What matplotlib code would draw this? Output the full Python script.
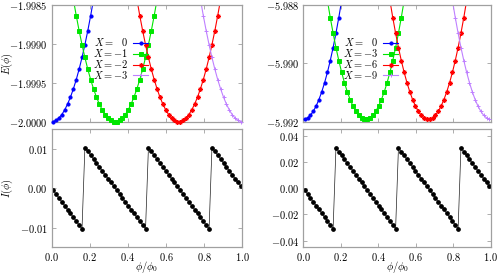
import numpy as np
import matplotlib
matplotlib.use('Agg')
import matplotlib.pyplot as plt
from matplotlib.ticker import MultipleLocator, FormatStrFormatter

# flux grid phi/phi0 (sample points)
phi = np.array([
    0.0076, 0.0227, 0.0379, 0.0530, 0.0682, 0.0833, 0.0985, 0.1136, 0.1288, 0.1439,
    0.1591, 0.1742, 0.1894, 0.2045, 0.2197, 0.2348, 0.2500, 0.2652, 0.2803, 0.2955,
    0.3106, 0.3258, 0.3409, 0.3561, 0.3712, 0.3864, 0.4015, 0.4167, 0.4318, 0.4470,
    0.4621, 0.4773, 0.4924, 0.5076, 0.5227, 0.5379, 0.5530, 0.5682, 0.5833, 0.5985,
    0.6136, 0.6288, 0.6439, 0.6591, 0.6742, 0.6894, 0.7045, 0.7197, 0.7348, 0.7500,
    0.7652, 0.7803, 0.7955, 0.8106, 0.8258, 0.8409, 0.8561, 0.8712, 0.8864, 0.9015,
    0.9167, 0.9318, 0.9470, 0.9621, 0.9773, 0.9924])

# E(phi) above the minimum, units of 1e-4
dE_left_X0 = [0.02, 0.17, 0.47, 0.91, 1.51, 2.26, 3.15, 4.20, 5.39, 6.73, 8.23, 9.87,
              11.66, 13.60, 15.69, 17.93]
dE_left_X1 = [17.93, 15.69, 13.60, 11.66, 9.87, 8.23, 6.73, 5.39, 4.20, 3.15, 2.26, 1.51,
              0.91, 0.47, 0.17, 0.02, 0.02, 0.17, 0.47, 0.91, 1.51, 2.26, 3.15, 4.20,
              5.39, 6.73, 8.23, 9.87, 11.66, 13.60, 15.69, 17.93]
dE_left_X2 = [17.93, 15.69, 13.60, 11.66, 9.87, 8.23, 6.73, 5.39, 4.20, 3.15, 2.26, 1.51,
              0.91, 0.47, 0.17, 0.02, 0.02, 0.17, 0.47, 0.91, 1.51, 2.26, 3.15, 4.20,
              5.39, 6.73, 8.23, 9.87, 11.66, 13.60, 15.69, 17.93]
dE_left_X3 = [17.93, 15.69, 13.60, 11.66, 9.87, 8.23, 6.73, 5.39, 4.20, 3.15, 2.26, 1.51,
              0.91, 0.47, 0.17, 0.02]

dE_right_X0 = [0.06, 0.50, 1.39, 2.73, 4.51, 6.74, 9.41, 12.53, 16.09, 20.10, 24.55,
               29.45, 34.79, 40.58, 46.82, 53.50]
dE_right_X3 = [53.50, 46.82, 40.58, 34.79, 29.45, 24.55, 20.10, 16.09, 12.53, 9.41, 6.74,
               4.51, 2.73, 1.39, 0.50, 0.06, 0.06, 0.50, 1.39, 2.73, 4.51, 6.74, 9.41,
               12.53, 16.09, 20.10, 24.55, 29.45, 34.79, 40.58, 46.82, 53.50]
dE_right_X6 = [53.50, 46.82, 40.58, 34.79, 29.45, 24.55, 20.10, 16.09, 12.53, 9.41, 6.74,
               4.51, 2.73, 1.39, 0.50, 0.06, 0.06, 0.50, 1.39, 2.73, 4.51, 6.74, 9.41,
               12.53, 16.09, 20.10, 24.55, 29.45, 34.79, 40.58, 46.82, 53.50]
dE_right_X9 = [53.50, 46.82, 40.58, 34.79, 29.45, 24.55, 20.10, 16.09, 12.53, 9.41, 6.74,
               4.51, 2.73, 1.39, 0.50, 0.06]

E_min_left = -2.0
E_min_right = -5.99192

# persistent current I(phi), units of 1e-3
I_left = [-0.49, -1.48, -2.46, -3.45, -4.43, -5.42, -6.40, -7.39, -8.37, -9.36, -10.34,
          10.34, 9.36, 8.37, 7.39, 6.40, 5.42, 4.43, 3.45, 2.46, 1.48, 0.49,
          -0.49, -1.48, -2.46, -3.45, -4.43, -5.42, -6.40, -7.39, -8.37, -9.36, -10.34,
          10.34, 9.36, 8.37, 7.39, 6.40, 5.42, 4.43, 3.45, 2.46, 1.48, 0.49,
          -0.49, -1.48, -2.46, -3.45, -4.43, -5.42, -6.40, -7.39, -8.37, -9.36, -10.34,
          10.34, 9.36, 8.37, 7.39, 6.40, 5.42, 4.43, 3.45, 2.46, 1.48, 0.49]
I_right = [-1.47, -4.41, -7.35, -10.29, -13.23, -16.17, -19.11, -22.05, -24.98, -27.92, -30.86,
           30.86, 27.92, 24.98, 22.05, 19.11, 16.17, 13.23, 10.29, 7.35, 4.41, 1.47,
           -1.47, -4.41, -7.35, -10.29, -13.23, -16.17, -19.11, -22.05, -24.98, -27.92, -30.86,
           30.86, 27.92, 24.98, 22.05, 19.11, 16.17, 13.23, 10.29, 7.35, 4.41, 1.47,
           -1.47, -4.41, -7.35, -10.29, -13.23, -16.17, -19.11, -22.05, -24.98, -27.92, -30.86,
           30.86, 27.92, 24.98, 22.05, 19.11, 16.17, 13.23, 10.29, 7.35, 4.41, 1.47]

labels_left = [r'$X =\enspace\;0$', r'$X = -1$', r'$X = -2$', r'$X = -3$']
labels_right = [r'$X =\enspace\;0$', r'$X = -3$', r'$X = -6$', r'$X = -9$']

# which part of the grid each parabola covers
ranges = [(0, 16), (6, 38), (28, 60), (50, 66)]
colors = ['#0000ff', '#00e600', '#ff0000', '#bf80ff']
markers = [('o', 2.3), ('s', 2.3), ((8, 2, 0), 3.4), ('+', 3.4)]

plt.rcParams['mathtext.fontset'] = 'cm'
plt.rcParams['font.family'] = 'serif'
plt.rcParams['font.serif'] = ['DejaVu Serif']
plt.rcParams['font.size'] = 7.5

GRAY = '#a0a0a0'


def style_axes(ax):
    for s in ax.spines.values():
        s.set_color(GRAY)
        s.set_linewidth(0.9)
    ax.tick_params(direction='in', length=3, width=0.6, color=GRAY,
                   top=True, right=True, labelsize=7.5, pad=3)
    ax.set_xlim(0, 1)
    ax.xaxis.set_major_locator(MultipleLocator(0.2))
    ax.xaxis.set_major_formatter(FormatStrFormatter('$%.1f$'))


def energy_panel(ax, e0, dE_sets, labels, ylim, step, fmt):
    handles = []
    for (a, b), dE, c, (m, ms) in zip(ranges, dE_sets, colors, markers):
        x = phi[a:b]
        E = e0 + 1e-4 * np.array(dE)
        ln, = ax.plot(x, E, color=c, lw=0.8)
        keep = E <= ylim[1]
        pts, = ax.plot(x[keep], E[keep], ls='none', marker=m, ms=ms, color=c,
                       mec=c, mew=0.7, clip_on=False, zorder=3)
        handles.append((ln, pts))
    ax.set_ylim(*ylim)
    ax.yaxis.set_major_locator(MultipleLocator(step))
    ax.yaxis.set_major_formatter(FormatStrFormatter(fmt))
    ax.tick_params(labelbottom=False)
    ax.legend(handles, labels, markerfirst=False, frameon=False,
              loc='upper right', bbox_to_anchor=(0.505, 0.73),
              handlelength=1.4, handletextpad=0.5, labelspacing=-0.1,
              borderpad=0, borderaxespad=0, fontsize=7.5)


def current_panel(ax, I, scale, ylim, step, fmt):
    ax.plot(phi, np.array(I) * scale, color='#202020', lw=0.5, marker='o', ms=2.4,
            mfc='k', mec='k')
    ax.set_ylim(*ylim)
    ax.yaxis.set_major_locator(MultipleLocator(step))
    ax.yaxis.set_major_formatter(FormatStrFormatter(fmt))
    ax.set_xlabel(r'$\phi/\phi_0$', labelpad=-3)


fig = plt.figure(figsize=(4.98, 2.75), dpi=100)
ax_tl = fig.add_axes([0.1038, 0.5575, 0.3827, 0.4255])
ax_bl = fig.add_axes([0.1038, 0.1010, 0.3827, 0.4290])
ax_tr = fig.add_axes([0.6090, 0.5575, 0.3765, 0.4255])
ax_br = fig.add_axes([0.6090, 0.1010, 0.3765, 0.4290])

for ax in (ax_tl, ax_bl, ax_tr, ax_br):
    style_axes(ax)

energy_panel(ax_tl, E_min_left, [dE_left_X0, dE_left_X1, dE_left_X2, dE_left_X3],
             labels_left, (-2.0, -1.9985), 0.0005, '$%.4f$')
energy_panel(ax_tr, E_min_right, [dE_right_X0, dE_right_X3, dE_right_X6, dE_right_X9],
             labels_right, (-5.992, -5.988), 0.002, '$%.3f$')
current_panel(ax_bl, I_left, 1e-3, (-0.015, 0.015), 0.01, '$%.2f$')
current_panel(ax_br, I_right, 1e-3, (-0.045, 0.045), 0.02, '$%.2f$')

ax_tl.set_ylabel(r'$E(\phi)$')
ax_bl.set_ylabel(r'$I(\phi)$')
ax_tl.yaxis.set_label_coords(-0.19, 0.5)
ax_bl.yaxis.set_label_coords(-0.19, 0.5)

fig.savefig('out.png', dpi=100)
